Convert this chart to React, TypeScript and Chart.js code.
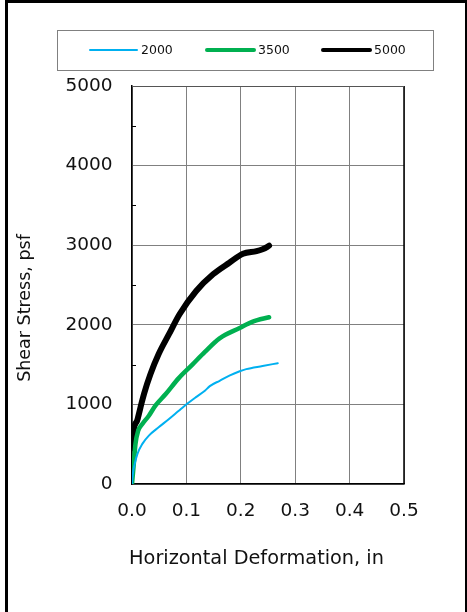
import React, { useEffect, useRef } from "react";
import { Chart, registerables } from "chart.js";

Chart.register(...registerables);

// ---- data ----
const seriesLabels = ["2000", "3500", "5000"];
const seriesColors = ["#00B0F0", "#00B050", "#000000"];
const seriesWidths = [2, 4.5, 6];
const legendWidths = [2, 4, 4];

const blueX = [0, 0.002, 0.005, 0.01, 0.019, 0.031, 0.049, 0.068, 0.086, 0.097, 0.117, 0.134, 0.143, 0.161, 0.18, 0.198, 0.21, 0.24, 0.268];
const blueY = [0, 150, 253, 378, 504, 608, 712, 817, 921, 984, 1088, 1172, 1229, 1297, 1365, 1417, 1443, 1482, 1518];

const greenX = [0, 0.0033, 0.0064, 0.0114, 0.019, 0.031, 0.043, 0.062, 0.086, 0.111, 0.134, 0.161, 0.198, 0.222, 0.252];
const greenY = [0, 253, 504, 670, 754, 858, 984, 1130, 1330, 1500, 1660, 1830, 1960, 2040, 2095];

const blackX = [0, 0.0015, 0.0033, 0.0096, 0.0156, 0.022, 0.034, 0.049, 0.068, 0.0874, 0.118, 0.149, 0.179, 0.204, 0.229, 0.24, 0.248, 0.252];
const blackY = [450, 560, 690, 800, 962, 1130, 1381, 1632, 1882, 2133, 2425, 2634, 2780, 2892, 2926, 2950, 2976, 2995];

const xTickLabels = ["0.0", "0.1", "0.2", "0.3", "0.4", "0.5"];
const yTickLabels = ["0", "1000", "2000", "3000", "4000", "5000"];
const xTitle = "Horizontal Deformation, in";
const yTitle = "Shear Stress, psf";

const FONT = "DejaVu Sans";

function pts(xs: number[], ys: number[]) {
  return xs.map((x, i) => ({ x, y: ys[i] }));
}

const decorPlugin = {
  id: "decor",
  beforeDatasetsDraw(chart: any) {
    const ctx = chart.ctx;
    const { left, right, top, bottom } = chart.chartArea;
    const y = chart.scales.y;
    ctx.save();
    ctx.strokeStyle = "#000";
    ctx.lineWidth = 1.5;
    ctx.beginPath();
    ctx.moveTo(right, top);
    ctx.lineTo(right, bottom);
    ctx.stroke();
    ctx.strokeStyle = "#555";
    ctx.lineWidth = 1;
    ctx.beginPath();
    ctx.moveTo(left, top + 0.5);
    ctx.lineTo(right, top + 0.5);
    ctx.stroke();
    // minor ticks (inward) between labelled y ticks
    ctx.strokeStyle = "#000";
    ctx.lineWidth = 1;
    const vals = yTickLabels.map(Number);
    for (let i = 0; i < vals.length - 1; i++) {
      const py = Math.round(y.getPixelForValue((vals[i] + vals[i + 1]) / 2)) + 0.5;
      ctx.beginPath();
      ctx.moveTo(left, py);
      ctx.lineTo(left + 4, py);
      ctx.stroke();
    }
    ctx.restore();
  },
  afterDraw(chart: any) {
    const ctx = chart.ctx;
    ctx.save();
    // outer frame
    ctx.strokeStyle = "#000";
    ctx.lineWidth = 3;
    ctx.strokeRect(6.5, 1.5, 460, 700);
    // legend box
    ctx.strokeStyle = "#808080";
    ctx.lineWidth = 1;
    ctx.strokeRect(57.5, 30.5, 376, 40);
    const starts = [90, 207, 323];
    ctx.font = `12.5px "${FONT}"`;
    ctx.textBaseline = "middle";
    ctx.textAlign = "left";
    chart.data.datasets.forEach((ds: any, i: number) => {
      const x0 = starts[i];
      ctx.strokeStyle = ds.borderColor;
      ctx.lineWidth = legendWidths[i];
      ctx.lineCap = "round";
      ctx.beginPath();
      ctx.moveTo(x0, 50);
      ctx.lineTo(x0 + 47, 50);
      ctx.stroke();
      ctx.fillStyle = "#111";
      ctx.fillText(ds.label, x0 + 51, 50.5);
    });
    // axis titles
    ctx.fillStyle = "#111";
    ctx.textAlign = "center";
    ctx.textBaseline = "middle";
    ctx.font = `19.3px "${FONT}"`;
    ctx.fillText(xTitle, 256.5, 559);
    ctx.font = `17.5px "${FONT}"`;
    ctx.translate(25, 308);
    ctx.rotate(-Math.PI / 2);
    ctx.fillText(yTitle, 0, 0);
    ctx.restore();
  },
};

export default function App() {
  const ref = useRef<HTMLCanvasElement | null>(null);
  useEffect(() => {
    if (!ref.current) return;
    const chart = new Chart(ref.current, {
      type: "scatter",
      data: {
        datasets: [
          { label: seriesLabels[0], data: pts(blueX, blueY) },
          { label: seriesLabels[1], data: pts(greenX, greenY) },
          { label: seriesLabels[2], data: pts(blackX, blackY) },
        ].map((d, i) => ({
          ...d,
          showLine: true,
          borderColor: seriesColors[i],
          backgroundColor: seriesColors[i],
          borderWidth: seriesWidths[i],
          pointRadius: 0,
          pointHoverRadius: 0,
          cubicInterpolationMode: "monotone" as const,
          borderCapStyle: "round" as const,
          borderJoinStyle: "round" as const,
        })),
      },
      options: {
        animation: false,
        responsive: false,
        events: [],
        layout: { padding: { top: 86, right: 63, bottom: 0, left: 0 } },
        plugins: { legend: { display: false }, tooltip: { enabled: false } },
        scales: {
          x: {
            type: "linear",
            min: 0,
            max: 0.5,
            afterFit: (s: any) => { s.height = 128; },
            afterBuildTicks: (s: any) => {
              s.ticks = xTickLabels.map((t) => ({ value: Number(t) }));
            },
            ticks: {
              autoSkip: false,
              maxRotation: 0,
              padding: 16,
              color: "#111",
              font: { family: FONT, size: 18.5 },
              callback: (_v: any, i: number) => xTickLabels[i],
            },
            grid: { color: "#808080", lineWidth: 1, drawTicks: false },
            border: { color: "#000", width: 1.5 },
          },
          y: {
            type: "linear",
            min: 0,
            max: 5000,
            afterFit: (s: any) => { s.width = 132; },
            afterBuildTicks: (s: any) => {
              s.ticks = yTickLabels.map((t) => ({ value: Number(t) }));
            },
            ticks: {
              autoSkip: false,
              padding: 19.5,
              color: "#111",
              font: { family: FONT, size: 18.5 },
              callback: (_v: any, i: number) => yTickLabels[i],
            },
            grid: { color: "#808080", lineWidth: 1, drawTicks: false },
            border: { color: "#000", width: 1.5 },
          },
        },
      },
      plugins: [decorPlugin],
    });
    return () => chart.destroy();
  }, []);
  return (
    <div style={{ position: "fixed", left: 0, top: 0, width: 467, height: 612, background: "#fff" }}>
      <canvas ref={ref} width={467} height={612} style={{ display: "block", width: 467, height: 612 }} />
    </div>
  );
}
